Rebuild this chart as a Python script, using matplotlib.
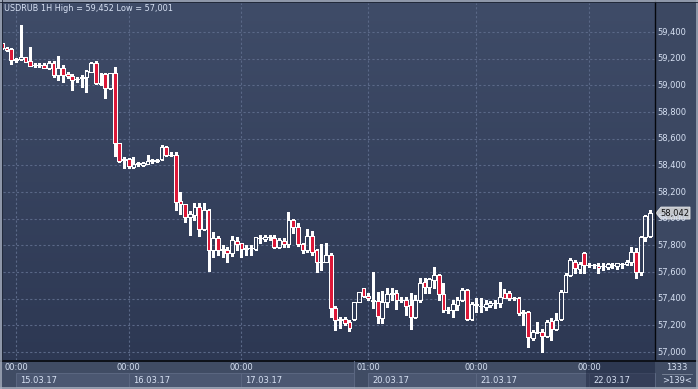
import matplotlib
matplotlib.use('Agg')
import matplotlib.pyplot as plt
import numpy as np
from matplotlib.patches import Rectangle, Polygon
from matplotlib.colors import LinearSegmentedColormap
from matplotlib import transforms

# ---------------- data ----------------
title = 'USDRUB 1H High = 59,452 Low = 57,001'
opens = [59315, 59278, 59270, 59190, 59198, 59210, 59182, 59150, 59152, 59152,
         59128, 59165, 59078, 59128, 59085, 59070, 59050, 59055, 59060, 59102,
         59170, 59018, 59085, 58978, 59092, 58565, 58440, 58445, 58390, 58412,
         58402, 58412, 58433, 58435, 58445, 58535, 58478, 58478, 58132, 58108,
         58015, 58028, 58085, 57920, 58065, 57765, 57853, 57768, 57765, 57740,
         57835, 57815, 57775, 57777, 57772, 57857, 57845, 57862, 57853, 57790,
         57835, 57808, 57990, 57935, 57808, 57765, 57872, 57765, 57675, 57678,
         57728, 57328, 57245, 57245, 57227, 57245, 57378, 57478, 57420, 57382,
         57382, 57252, 57378, 57437, 57445, 57388, 57390, 57352, 57260, 57390,
         57523, 57485, 57540, 57578, 57433, 57313, 57315, 57352, 57390, 57465,
         57245, 57356, 57343, 57340, 57350, 57364, 57365, 57445, 57442, 57406,
         57407, 57302, 57298, 57103, 57150, 57152, 57120, 57232, 57170, 57245,
         57452, 57578, 57678, 57620, 57745, 57652, 57655, 57647, 57645, 57640,
         57652, 57647, 57657, 57660, 57678, 57748, 57598, 57865, 57870]
highs = [59318, 59285, 59278, 59205, 59452, 59212, 59290, 59165, 59170, 59165,
         59185, 59185, 59220, 59152, 59102, 59085, 59065, 59078, 59115, 59178,
         59182, 59090, 59092, 59095, 59138, 58568, 58460, 58457, 58460, 58423,
         58423, 58478, 58448, 58445, 58550, 58547, 58502, 58498, 58202, 58110,
         58060, 58120, 58115, 58115, 58072, 57902, 57870, 57802, 57790, 57870,
         57860, 57820, 57802, 57802, 57865, 57878, 57878, 57878, 57878, 57855,
         57853, 58050, 57995, 57965, 57820, 57920, 57908, 57770, 57810, 57815,
         57742, 57345, 57265, 57265, 57240, 57378, 57452, 57482, 57440, 57602,
         57452, 57458, 57478, 57478, 57465, 57415, 57415, 57440, 57428, 57553,
         57553, 57555, 57635, 57585, 57515, 57340, 57390, 57415, 57478, 57472,
         57378, 57402, 57402, 57390, 57382, 57390, 57523, 57470, 57457, 57415,
         57415, 57315, 57308, 57165, 57227, 57170, 57240, 57252, 57290, 57465,
         57590, 57702, 57690, 57678, 57752, 57665, 57660, 57665, 57665, 57670,
         57665, 57670, 57670, 57690, 57790, 57778, 57872, 58030, 58065]
lows = [59276, 59260, 59158, 59175, 59190, 59175, 59145, 59138, 59140, 59128,
        59122, 59065, 59040, 59027, 59052, 58965, 59027, 58990, 58952, 59100,
        59010, 59002, 58908, 58972, 58470, 58428, 58378, 58382, 58382, 58397,
        58397, 58410, 58420, 58423, 58440, 58470, 58470, 58065, 58035, 57973,
        57878, 57990, 57872, 57915, 57610, 57712, 57727, 57715, 57678, 57720,
        57765, 57715, 57728, 57728, 57765, 57820, 57835, 57840, 57782, 57778,
        57790, 57790, 57890, 57797, 57740, 57752, 57727, 57598, 57615, 57675,
        57265, 57165, 57178, 57202, 57160, 57240, 57375, 57412, 57390, 57328,
        57220, 57220, 57340, 57390, 57320, 57378, 57278, 57172, 57252, 57378,
        57440, 57445, 57478, 57390, 57302, 57290, 57265, 57315, 57382, 57240,
        57240, 57302, 57302, 57315, 57340, 57328, 57340, 57403, 57390, 57390,
        57278, 57202, 57040, 57090, 57140, 57001, 57115, 57090, 57165, 57240,
        57450, 57570, 57590, 57590, 57590, 57640, 57628, 57590, 57615, 57620,
        57628, 57620, 57628, 57652, 57652, 57553, 57578, 57830, 57862]
closes = [59278, 59265, 59190, 59195, 59210, 59177, 59147, 59155, 59153, 59132,
          59165, 59078, 59128, 59078, 59070, 59040, 59048, 59060, 59108, 59165,
          59015, 59008, 58978, 59090, 58565, 58435, 58445, 58395, 58410, 58415,
          58420, 58435, 58437, 58438, 58540, 58478, 58476, 58127, 58110, 58015,
          58033, 58085, 57920, 58065, 57765, 57853, 57765, 57772, 57740, 57840,
          57810, 57770, 57778, 57780, 57860, 57858, 57865, 57863, 57790, 57840,
          57808, 57990, 57935, 57808, 57765, 57872, 57752, 57673, 57678, 57728,
          57328, 57240, 57243, 57220, 57178, 57373, 57448, 57420, 57403, 57388,
          57270, 57378, 57435, 57440, 57390, 57390, 57345, 57260, 57390, 57520,
          57485, 57545, 57578, 57433, 57315, 57317, 57358, 57390, 57465, 57245,
          57358, 57360, 57347, 57358, 57365, 57366, 57415, 57407, 57407, 57408,
          57290, 57290, 57110, 57152, 57153, 57120, 57227, 57170, 57240, 57452,
          57578, 57690, 57628, 57660, 57652, 57655, 57652, 57628, 57645, 57660,
          57655, 57665, 57660, 57678, 57752, 57598, 57865, 58020, 58042]
price_ticks = [57000, 57200, 57400, 57600, 57800, 58000, 58200, 58400, 58600,
               58800, 59000, 59200, 59400]
day_index = [3, 27, 51, 78, 101, 125]
time_labels = ['00:00', '00:00', '00:00', '01:00', '00:00', '00:00']
date_labels = ['15.03.17', '16.03.17', '17.03.17', '20.03.17', '21.03.17', '22.03.17']
week_break = 75
last_price_label = '58,042'
bars_total = '1333'
bars_visible = '>139<'

# ---------------- style ----------------
W, H = 698, 389
FONT = 'DejaVu Sans'
FS = 6.0
TXT = '#d8e2f4'
RED = '#dc1838'
fig = plt.figure(figsize=(W / 100, H / 100), dpi=100)
fig.patch.set_facecolor('#3d4963')

bg = fig.add_axes([0, 0, 1, 1], zorder=0)
bg.set_xlim(0, W)
bg.set_ylim(H, 0)
bg.axis('off')

# panels
bg.add_patch(Rectangle((655, 0), 43, 360, facecolor='#3c4862', edgecolor='none'))
bg.add_patch(Rectangle((0, 360), W, 29, facecolor='#404c64', edgecolor='none'))

# main axes
L, R, T, B = 3, 655, 3, 360
ax = fig.add_axes([L / W, (H - B) / H, (R - L) / W, (B - T) / H], zorder=1)
n = len(opens)
ax.set_xlim(0.234, 139.05)
ax.set_ylim(56940, 59617.5)
ax.axis('off')
cmap = LinearSegmentedColormap.from_list('g', ['#2d3853', '#3f4c68'])
ax.imshow(np.linspace(0, 1, 256).reshape(-1, 1), cmap=cmap, origin='lower',
          extent=[0, 1, 0, 1], transform=ax.transAxes, aspect='auto', zorder=0)

grid_kw = dict(color='#5a6887', lw=0.8, ls=(0, (2, 2)), zorder=1)
for v in price_ticks:
    ax.axhline(v, **grid_kw)
for d in day_index:
    ax.axvline(d, **grid_kw)

bw = 0.8
for i in range(n):
    o, h, l, c = opens[i], highs[i], lows[i], closes[i]
    top, bot = max(o, c), min(o, c)
    ax.plot([i, i], [top, h], color='white', lw=0.75, zorder=2,
            solid_capstyle='butt', antialiased=False)
    ax.plot([i, i], [l, bot], color='white', lw=0.75, zorder=2,
            solid_capstyle='butt', antialiased=False)
    fc = RED if c < o else 'none'
    ax.add_patch(Rectangle((i - bw / 2, bot), bw, top - bot, facecolor=fc,
                           edgecolor='white', lw=0.72, zorder=3, antialiased=False))

# overlay axes for texts
ov = fig.add_axes([0, 0, 1, 1], zorder=2)
ov.set_xlim(0, W)
ov.set_ylim(H, 0)
ov.axis('off')
ov.patch.set_alpha(0)

tr_x = transforms.blended_transform_factory(ax.transData, ov.transData)
tr_y = transforms.blended_transform_factory(ov.transData, ax.transData)

# separators
ov.plot([655, 655], [0, 360], color='#05070c', lw=1.0, solid_capstyle='butt')
ov.plot([0, W], [360.5, 360.5], color='#05070c', lw=1.2, solid_capstyle='butt')

# date boxes
ends = day_index[1:] + [139.05]
ends[2] = week_break
for s, e in zip(day_index, ends):
    ov.add_patch(Rectangle((s, 373), e - s, 14, transform=tr_x,
                           facecolor='#4b5771', edgecolor='#5b6781', lw=0.7))
ov.plot([week_break, week_break], [361, 389], transform=tr_x, color='#5b6781', lw=0.8)

off = transforms.ScaledTranslation(4 / 100, 0, fig.dpi_scale_trans)
for d, tl, dl in zip(day_index, time_labels, date_labels):
    ov.text(d, 368, tl, transform=tr_x, ha='center', va='center',
            fontsize=FS, color=TXT, family=FONT)
    ov.text(d, 380.5, dl, transform=tr_x + off, ha='left', va='center',
            fontsize=FS, color=TXT, family=FONT)

# price labels
for v in price_ticks:
    ov.text(657.5, v, f'{v:,}', transform=tr_y, ha='left', va='center',
            fontsize=FS, color=TXT, family=FONT)

# last price tag
py = H - ax.transData.transform((0, closes[-1]))[1]
tag = Polygon([[656, py], [661, py - 6], [690, py - 6], [690, py + 6], [661, py + 6]],
              closed=True, facecolor='#c3c6cb', edgecolor='#e6e8ea', lw=0.6)
ov.add_patch(tag)
ov.text(660, py, last_price_label, ha='left', va='center', fontsize=FS,
        color='#111111', family=FONT)

# last day dim overlay
ov.add_patch(Rectangle((586, 361.5), 655 - 586, 27.5, facecolor='#18203a',
                       edgecolor='none', alpha=0.45))

# bars counter
ov.text(677, 367, bars_total, ha='center', va='center', fontsize=FS,
        color=TXT, family=FONT)
ov.plot([662, 692], [373.5, 373.5], color='#7d889c', lw=0.6)
ov.text(677, 380.5, bars_visible, ha='center', va='center', fontsize=FS,
        color=TXT, family=FONT)

# title
ov.text(4, 8.5, title, ha='left', va='center', fontsize=5.85, color=TXT, family=FONT)

# outer frame
ov.plot([0, W], [0.7, 0.7], color='#a8b0bf', lw=1.1)
ov.plot([0, W], [388.3, 388.3], color='#a8b0bf', lw=1.1)
ov.plot([0.7, 0.7], [0, H], color='#a8b0bf', lw=1.1)
ov.plot([697.3, 697.3], [0, H], color='#a8b0bf', lw=1.1)
ov.plot([0, W], [2, 2], color='#1c2333', lw=0.6)
ov.plot([2, 2], [0, 360], color='#1c2333', lw=0.6)

fig.savefig('out.png', dpi=100, facecolor=fig.get_facecolor())
